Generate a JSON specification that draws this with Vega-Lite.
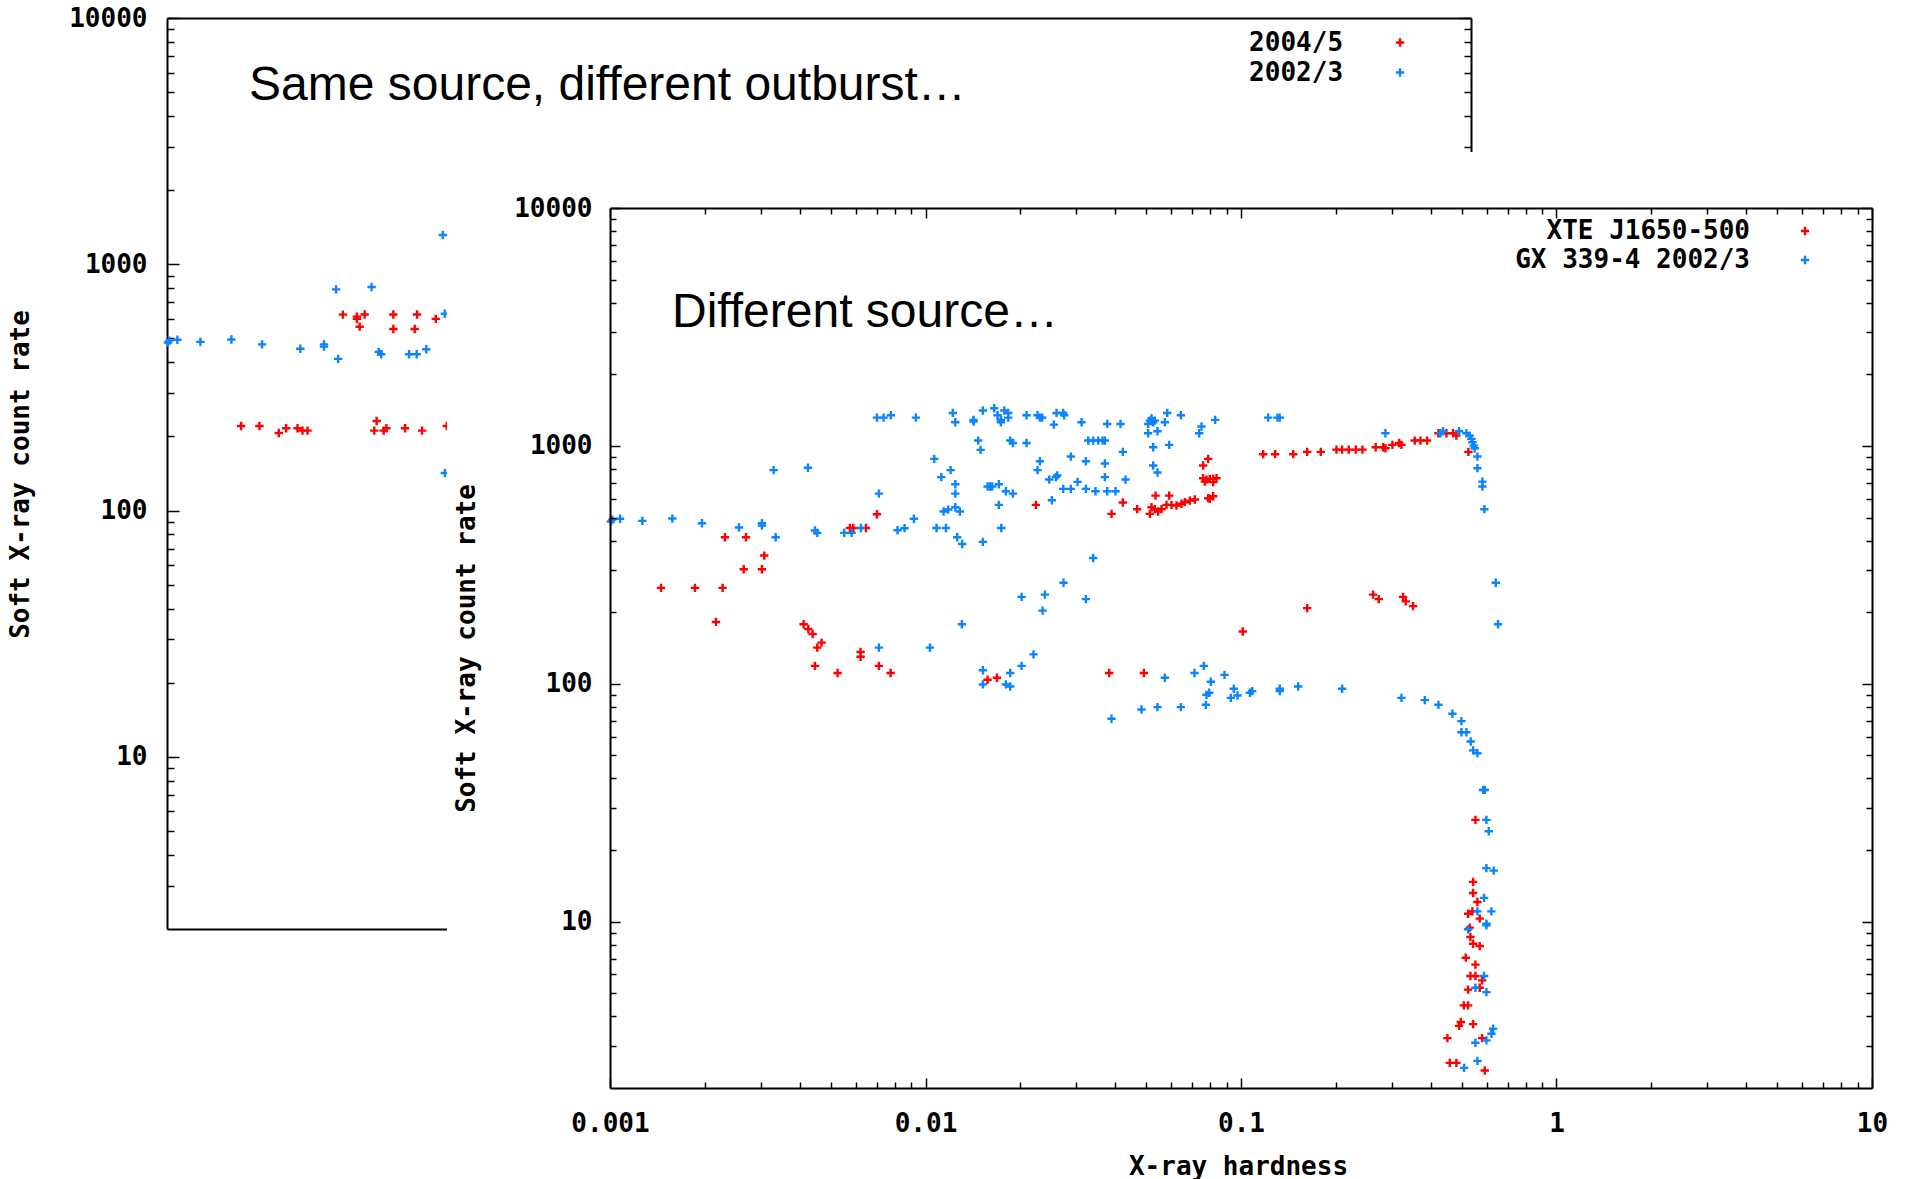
{
  "$schema": "https://vega.github.io/schema/vega-lite/v6.json",
  "width": 1905,
  "height": 1179,
  "autosize": {"type": "none"},
  "padding": 0,
  "background": "white",
  "config": {
    "view": {"stroke": null},
    "point": {"shape": "M-1,0H1M0,-1V1", "filled": false, "strokeWidth": 2.4, "size": 70, "opacity": 1},
    "axis": {"grid": false, "domainColor": "#000", "domainWidth": 2, "tickColor": "#000", "tickWidth": 1.5,
      "labelFont": "DejaVu Sans Mono", "labelFontWeight": "bold", "labelFontSize": 26, "labelColor": "#000",
      "titleFont": "DejaVu Sans Mono", "titleFontWeight": "bold", "titleFontSize": 26, "titleColor": "#000",
      "labelOverlap": false, "labelFlush": false, "labelBound": false}
  },
  "datasets": {
    "gx": [
      {"h":0.001007,"r":481},{"h":0.001017,"r":490},{"h":0.001076,"r":494},{"h":0.001266,"r":484},{"h":0.001576,"r":495},{"h":0.001957,"r":473},{"h":0.002564,"r":454},{"h":0.003031,"r":473},{"h":0.003031,"r":463},{"h":0.00335,"r":413},{"h":0.003301,"r":791},{"h":0.004241,"r":809},{"h":0.004463,"r":441},{"h":0.004539,"r":431},{"h":0.005527,"r":431},{"h":0.005832,"r":431},{"h":0.006243,"r":452},{"h":0.007118,"r":630},{"h":0.007016,"r":1315},{"h":0.007365,"r":1315},{"h":0.007769,"r":1345},{"h":0.009324,"r":1315},{"h":0.008155,"r":442},{"h":0.008584,"r":451},{"h":0.00919,"r":494},{"h":0.01066,"r":882},{"h":0.01084,"r":452},{"h":0.01161,"r":452},{"h":0.01122,"r":739},{"h":0.01201,"r":791},{"h":0.01141,"r":530},{"h":0.0118,"r":540},{"h":0.01243,"r":552},{"h":0.01285,"r":530},{"h":0.01243,"r":690},{"h":0.01243,"r":630},{"h":0.0126,"r":413},{"h":0.01307,"r":387},{"h":0.01304,"r":178},{"h":0.01221,"r":1376},{"h":0.01243,"r":1257},{"h":0.0142,"r":1286},{"h":0.0142,"r":1265},{"h":0.0152,"r":1408},{"h":0.01469,"r":1053},{"h":0.01495,"r":962},{"h":0.0152,"r":395},{"h":0.01651,"r":1440},{"h":0.01692,"r":1345},{"h":0.01734,"r":1286},{"h":0.01734,"r":1257},{"h":0.01777,"r":1408},{"h":0.01829,"r":1376},{"h":0.01829,"r":1315},{"h":0.01573,"r":675},{"h":0.016,"r":675},{"h":0.01627,"r":675},{"h":0.01708,"r":690},{"h":0.01708,"r":565},{"h":0.01738,"r":452},{"h":0.01798,"r":645},{"h":0.01892,"r":630},{"h":0.01856,"r":1053},{"h":0.01892,"r":1029},{"h":0.02091,"r":1345},{"h":0.02091,"r":1029},{"h":0.02265,"r":1345},{"h":0.02305,"r":1315},{"h":0.02344,"r":1315},{"h":0.02305,"r":862},{"h":0.02265,"r":791},{"h":0.02552,"r":1229},{"h":0.02602,"r":1376},{"h":0.02732,"r":1376},{"h":0.02751,"r":1345},{"h":0.02467,"r":722},{"h":0.0259,"r":739},{"h":0.02615,"r":751},{"h":0.02515,"r":591},{"h":0.02732,"r":660},{"h":0.02889,"r":660},{"h":0.02889,"r":902},{"h":0.03033,"r":706},{"h":0.03123,"r":1257},{"h":0.03223,"r":862},{"h":0.03223,"r":660},{"h":0.03458,"r":645},{"h":0.03279,"r":1053},{"h":0.034,"r":1053},{"h":0.03527,"r":1053},{"h":0.034,"r":338},{"h":0.02738,"r":266},{"h":0.0239,"r":237},{"h":0.0235,"r":203},{"h":0.02016,"r":232},{"h":0.03223,"r":227},{"h":0.022,"r":133},{"h":0.02016,"r":119},{"h":0.01856,"r":111},{"h":0.0152,"r":114},{"h":0.0152,"r":99.4},{"h":0.01798,"r":99.4},{"h":0.01856,"r":97.4},{"h":0.01033,"r":142},{"h":0.007118,"r":142},
      {"h":0.03766,"r":1237},{"h":0.04151,"r":1237},{"h":0.0364,"r":1053},{"h":0.03703,"r":1053},{"h":0.04222,"r":944},{"h":0.03703,"r":843},{"h":0.03703,"r":739},{"h":0.04305,"r":722},{"h":0.03766,"r":645},{"h":0.04002,"r":645},{"h":0.05079,"r":1237},{"h":0.05142,"r":1277},{"h":0.05205,"r":1307},{"h":0.05268,"r":1257},{"h":0.05333,"r":1277},{"h":0.05737,"r":1257},{"h":0.05835,"r":1376},{"h":0.06447,"r":1345},{"h":0.05079,"r":1130},{"h":0.05437,"r":1152},{"h":0.05268,"r":987},{"h":0.05921,"r":1010},{"h":0.05268,"r":827},{"h":0.05437,"r":773},{"h":0.07496,"r":1206},{"h":0.07369,"r":1130},{"h":0.08281,"r":1286},{"h":0.1219,"r":1315},{"h":0.1305,"r":1315},{"h":0.1327,"r":1315},{"h":0.2869,"r":1130},{"h":0.4286,"r":1130},{"h":0.4371,"r":1152},{"h":0.4912,"r":1152},{"h":0.5182,"r":1130},{"h":0.5309,"r":1105},{"h":0.5375,"r":1070},{"h":0.5413,"r":1036},{"h":0.5466,"r":1003},{"h":0.5506,"r":978},{"h":0.5615,"r":902},{"h":0.5615,"r":806},{"h":0.5823,"r":708},{"h":0.5823,"r":675},{"h":0.5908,"r":542},{"h":0.6419,"r":266},{"h":0.6528,"r":178},
      {"h":0.03887,"r":71.3},{"h":0.04838,"r":78},{"h":0.05437,"r":79.8},{"h":0.06447,"r":79.8},{"h":0.05737,"r":106},{"h":0.07123,"r":111},{"h":0.07625,"r":119},{"h":0.08024,"r":102},{"h":0.07774,"r":89.9},{"h":0.07926,"r":91.7},{"h":0.07738,"r":81.6},{"h":0.08865,"r":109},{"h":0.09489,"r":95.3},{"h":0.09284,"r":87.3},{"h":0.09747,"r":89.3},{"h":0.1067,"r":91.7},{"h":0.1085,"r":93.2},{"h":0.1327,"r":95.3},{"h":0.1327,"r":93.2},{"h":0.1518,"r":97.4},{"h":0.2092,"r":95.3},{"h":0.3225,"r":87.3},{"h":0.3824,"r":85.4},{"h":0.4224,"r":81.6},{"h":0.4679,"r":74.8},{"h":0.4997,"r":69.7},{"h":0.4997,"r":62.6},{"h":0.5182,"r":62.6},
      {"h":0.5348,"r":57.2},{"h":0.544,"r":52.5},{"h":0.5615,"r":51.1},{"h":0.5851,"r":35.8},{"h":0.5923,"r":35.8},{"h":0.5996,"r":26.8},{"h":0.6099,"r":24},{"h":0.5996,"r":16.8},{"h":0.6325,"r":16.4},{"h":0.5894,"r":12.6},{"h":0.5615,"r":11.05},{"h":0.6218,"r":11.05},{"h":0.5996,"r":9.81},{"h":0.5996,"r":9.65},{"h":0.5245,"r":9.29},{"h":0.5894,"r":5.91},{"h":0.5533,"r":5.28},{"h":0.5996,"r":5.06},{"h":0.6295,"r":3.55},{"h":0.6218,"r":3.38},{"h":0.5996,"r":3.17},{"h":0.5533,"r":3.1},{"h":0.5615,"r":2.6},{"h":0.5094,"r":2.43}
    ],
    "xte": [
      {"h":0.002314,"r":413},{"h":0.002698,"r":413},{"h":0.003083,"r":346},{"h":0.002653,"r":303},{"h":0.003031,"r":303},{"h":0.001451,"r":253},{"h":0.001859,"r":253},{"h":0.002275,"r":253},{"h":0.002167,"r":182},{"h":0.004109,"r":178},{"h":0.004252,"r":170},{"h":0.004388,"r":162},{"h":0.004685,"r":149},{"h":0.004539,"r":142},{"h":0.004463,"r":119},{"h":0.005265,"r":111},{"h":0.006227,"r":136},{"h":0.006227,"r":130},{"h":0.007118,"r":119},{"h":0.007751,"r":111},{"h":0.005761,"r":452},{"h":0.005903,"r":452},{"h":0.006474,"r":452},{"h":0.007016,"r":516},{"h":0.02238,"r":565},{"h":0.01573,"r":104},{"h":0.01684,"r":106},
      {"h":0.03887,"r":518},{"h":0.04222,"r":578},{"h":0.04688,"r":542},{"h":0.05142,"r":518},{"h":0.05205,"r":552},{"h":0.05333,"r":542},{"h":0.05464,"r":530},{"h":0.05598,"r":542},{"h":0.05359,"r":618},{"h":0.05921,"r":618},{"h":0.05806,"r":565},{"h":0.06023,"r":565},{"h":0.06245,"r":562},{"h":0.06478,"r":571},{"h":0.06637,"r":580},{"h":0.06884,"r":589},{"h":0.0714,"r":595},{"h":0.07588,"r":827},{"h":0.0787,"r":882},{"h":0.07588,"r":731},{"h":0.07774,"r":722},{"h":0.07965,"r":727},{"h":0.08162,"r":727},{"h":0.08363,"r":731},{"h":0.07681,"r":708},{"h":0.08162,"r":704},{"h":0.0787,"r":603},{"h":0.08162,"r":614},{"h":0.07965,"r":599},{"h":0.1176,"r":923},{"h":0.1283,"r":923},{"h":0.1464,"r":923},{"h":0.1621,"r":944},{"h":0.179,"r":944},{"h":0.2007,"r":965},{"h":0.2092,"r":965},{"h":0.2196,"r":965},{"h":0.2311,"r":965},{"h":0.2426,"r":965},{"h":0.2673,"r":987},{"h":0.2821,"r":987},{"h":0.2869,"r":978},{"h":0.3019,"r":1010},{"h":0.317,"r":1029},{"h":0.3225,"r":1010},{"h":0.3554,"r":1053},{"h":0.3704,"r":1053},{"h":0.3889,"r":1053},{"h":0.4224,"r":1130},{"h":0.4478,"r":1130},{"h":0.4702,"r":1130},{"h":0.4817,"r":1105},{"h":0.5258,"r":944},{"h":0.2622,"r":237},{"h":0.2733,"r":227},{"h":0.3264,"r":232},{"h":0.3328,"r":222},{"h":0.3511,"r":212},{"h":0.1621,"r":208},{"h":0.1013,"r":166},{"h":0.03822,"r":111},{"h":0.04922,"r":111},
      {"h":0.5533,"r":26.8},{"h":0.544,"r":14.7},{"h":0.544,"r":13.2},{"h":0.5615,"r":12.1},{"h":0.5245,"r":10.8},{"h":0.5413,"r":11.05},{"h":0.5711,"r":10.3},{"h":0.5309,"r":9.44},{"h":0.5335,"r":8.62},{"h":0.544,"r":8.08},{"h":0.5711,"r":7.9},{"h":0.5157,"r":7.06},{"h":0.5533,"r":6.6},{"h":0.5335,"r":5.91},{"h":0.5533,"r":5.91},{"h":0.581,"r":5.67},{"h":0.5711,"r":5.28},{"h":0.5245,"r":5.18},{"h":0.5083,"r":4.45},{"h":0.5245,"r":4.45},{"h":0.4973,"r":3.79},{"h":0.4912,"r":3.65},{"h":0.544,"r":3.71},{"h":0.4511,"r":3.24},{"h":0.581,"r":3.24},{"h":0.4589,"r":2.55},{"h":0.4817,"r":2.55},{"h":0.5923,"r":2.37}
    ],
    "o0405": [
      {"h":0.003464,"r":624.6},{"h":0.003825,"r":613},{"h":0.003825,"r":600},{"h":0.0039,"r":558},{"h":0.004039,"r":625},{"h":0.004946,"r":625},{"h":0.004946,"r":546},{"h":0.005753,"r":546},{"h":0.005848,"r":625},{"h":0.006675,"r":600},{"h":0.007213,"r":220.6},{"h":0.001688,"r":220.6},{"h":0.001921,"r":220.6},{"h":0.002203,"r":206.6},{"h":0.00232,"r":215.8},{"h":0.002514,"r":215.8},{"h":0.002604,"r":211.2},{"h":0.002698,"r":211.2},{"h":0.004396,"r":231.1},{"h":0.004324,"r":211.2},{"h":0.00462,"r":211.2},{"h":0.00471,"r":215.8},{"h":0.005373,"r":215.8},{"h":0.006059,"r":211.2}
    ]
  },
  "resolve": {"scale": {"x": "independent", "y": "independent"}, "axis": {"x": "independent", "y": "independent"}},
  "layer": [
    {
      "data": {"name": "o0405"},
      "mark": {"type": "point", "color": "#ff0000"},
      "encoding": {
        "x": {"field": "h", "type": "quantitative", "scale": {"type": "log", "domain": [0.001, 10], "range": [167, 1471], "nice": false},
          "axis": {"orient": "top", "offset": -18, "ticks": false, "labels": false, "title": null, "zindex": 0}},
        "y": {"field": "r", "type": "quantitative", "scale": {"type": "log", "domain": [2, 10000], "range": [929, 18], "nice": false},
          "axis": {"orient": "left", "offset": -167, "zindex": 0,
            "values": [3,4,5,6,7,8,9,10,20,30,40,50,60,70,80,90,100,200,300,400,500,600,700,800,900,1000,2000,3000,4000,5000,6000,7000,8000,9000,10000],
            "format": "~g",
            "labelExpr": "abs(log(datum.value)/LN10 - round(log(datum.value)/LN10)) < 1e-6 ? datum.label : ''",
            "tickSize": {"condition": {"test": "abs(log(datum.value)/LN10 - round(log(datum.value)/LN10)) < 1e-6", "value": -12}, "value": -7},
            "labelPadding": 32, "labelAlign": "right", "labelBaseline": "middle",
            "title": "Soft X-ray count rate", "titleX": -147, "titleY": 474, "titleAngle": 270, "titleAlign": "center", "titleBaseline": "middle"}}
      }
    },
    {
      "data": {"name": "gx"},
      "transform": [{"filter": "datum.h < 0.00724"}],
      "mark": {"type": "point", "color": "#0b85ff"},
      "encoding": {
        "x": {"field": "h", "type": "quantitative", "scale": {"type": "log", "domain": [0.001, 10], "range": [167, 1471], "nice": false},
          "axis": {"orient": "bottom", "offset": -250, "ticks": false, "labels": false, "title": null, "zindex": 0}},
        "y": {"field": "r", "type": "quantitative", "scale": {"type": "log", "domain": [2, 10000], "range": [929, 18], "nice": false},
          "axis": {"orient": "right", "offset": -434, "zindex": 0, "labels": false, "title": null,
            "values": [3,4,5,6,7,8,9,10,20,30,40,50,60,70,80,90,100,200,300,400,500,600,700,800,900,1000,2000,3000,4000,5000,6000,7000,8000,9000,10000],
            "tickSize": {"condition": {"test": "abs(log(datum.value)/LN10 - round(log(datum.value)/LN10)) < 1e-6", "value": -12}, "value": -7}}}
      }
    },
    {
      "data": {"values": [{"t": "Same source, different outburst…"}]},
      "mark": {"type": "text", "font": "Liberation Sans", "fontSize": 48, "align": "left", "baseline": "alphabetic", "color": "#000"},
      "encoding": {
        "text": {"field": "t"},
        "x": {"datum": 0.001785, "type": "quantitative", "scale": {"type": "log", "domain": [0.001, 10], "range": [167, 1471], "nice": false}, "axis": null},
        "y": {"datum": 4647, "type": "quantitative", "scale": {"type": "log", "domain": [2, 10000], "range": [929, 18], "nice": false}, "axis": null}
      }
    },
    {
      "data": {"values": [{"s": "2004/5"}, {"s": "2002/3"}]},
      "mark": {"type": "text", "font": "DejaVu Sans Mono", "fontWeight": "bold", "fontSize": 26, "align": "right", "baseline": "middle", "color": "#000"},
      "encoding": {
        "text": {"field": "s"},
        "x": {"datum": 4.05, "type": "quantitative", "scale": {"type": "log", "domain": [0.001, 10], "range": [167, 1471], "nice": false}, "axis": null},
        "y": {"field": "s", "type": "nominal", "scale": {"type": "point", "domain": ["2004/5", "2002/3"], "range": [42.5, 72.5], "padding": 0}, "axis": null}
      }
    },
    {
      "data": {"values": [{"s": "2004/5"}, {"s": "2002/3"}]},
      "mark": {"type": "point"},
      "encoding": {
        "x": {"datum": 6.057, "type": "quantitative", "scale": {"type": "log", "domain": [0.001, 10], "range": [167, 1471], "nice": false}, "axis": null},
        "y": {"field": "s", "type": "nominal", "scale": {"type": "point", "domain": ["2004/5", "2002/3"], "range": [42.5, 72.5], "padding": 0}, "axis": null},
        "color": {"field": "s", "type": "nominal", "scale": {"domain": ["2004/5", "2002/3"], "range": ["#ff0000", "#0b85ff"]}, "legend": null}
      }
    },
    {
      "data": {"values": [{"region": "front panel"}]},
      "mark": {"type": "rect", "fill": "white", "stroke": null},
      "encoding": {
        "x": {"datum": 0.0003043, "type": "quantitative", "scale": {"type": "log", "domain": [0.001, 10], "range": [610, 1872], "nice": false}, "axis": null},
        "x2": {"datum": 13},
        "y": {"datum": 17195, "type": "quantitative", "scale": {"type": "log", "domain": [2, 10000], "range": [1088, 208], "nice": false}, "axis": null},
        "y2": {"datum": 0.8}
      }
    },
    {
      "data": {"name": "xte"},
      "mark": {"type": "point", "color": "#ff0000"},
      "encoding": {
        "x": {"field": "h", "type": "quantitative", "scale": {"type": "log", "domain": [0.001, 10], "range": [610, 1872], "nice": false},
          "axis": {"orient": "top", "offset": -208, "zindex": 1, "labels": false, "title": null,
            "values": [0.001,0.002,0.003,0.004,0.005,0.006,0.007,0.008,0.009,0.01,0.02,0.03,0.04,0.05,0.06,0.07,0.08,0.09,0.1,0.2,0.3,0.4,0.5,0.6,0.7,0.8,0.9,1,2,3,4,5,6,7,8,9,10],
            "tickSize": {"condition": {"test": "abs(log(datum.value)/LN10 - round(log(datum.value)/LN10)) < 1e-6", "value": -10}, "value": -6}}},
        "y": {"field": "r", "type": "quantitative", "scale": {"type": "log", "domain": [2, 10000], "range": [1088, 208], "nice": false},
          "axis": {"orient": "right", "offset": -33, "zindex": 1, "labels": false, "title": null,
            "values": [3,4,5,6,7,8,9,10,20,30,40,50,60,70,80,90,100,200,300,400,500,600,700,800,900,1000,2000,3000,4000,5000,6000,7000,8000,9000,10000],
            "tickSize": {"condition": {"test": "abs(log(datum.value)/LN10 - round(log(datum.value)/LN10)) < 1e-6", "value": -10}, "value": -6}}}
      }
    },
    {
      "data": {"name": "gx"},
      "mark": {"type": "point", "color": "#0b85ff"},
      "encoding": {
        "x": {"field": "h", "type": "quantitative", "scale": {"type": "log", "domain": [0.001, 10], "range": [610, 1872], "nice": false},
          "axis": {"orient": "bottom", "offset": -91, "zindex": 1,
            "values": [0.001,0.002,0.003,0.004,0.005,0.006,0.007,0.008,0.009,0.01,0.02,0.03,0.04,0.05,0.06,0.07,0.08,0.09,0.1,0.2,0.3,0.4,0.5,0.6,0.7,0.8,0.9,1,2,3,4,5,6,7,8,9,10],
            "format": "~g",
            "labelExpr": "abs(log(datum.value)/LN10 - round(log(datum.value)/LN10)) < 1e-6 ? datum.label : ''",
            "tickSize": {"condition": {"test": "abs(log(datum.value)/LN10 - round(log(datum.value)/LN10)) < 1e-6", "value": -10}, "value": -6},
            "labelPadding": 32, "labelBaseline": "top", "labelAlign": "center",
            "title": "X-ray hardness", "titleX": 1238, "titleY": 86, "titleAlign": "center", "titleBaseline": "alphabetic"}},
        "y": {"field": "r", "type": "quantitative", "scale": {"type": "log", "domain": [2, 10000], "range": [1088, 208], "nice": false},
          "axis": {"orient": "left", "offset": -610, "zindex": 1,
            "values": [3,4,5,6,7,8,9,10,20,30,40,50,60,70,80,90,100,200,300,400,500,600,700,800,900,1000,2000,3000,4000,5000,6000,7000,8000,9000,10000],
            "format": "~g",
            "labelExpr": "abs(log(datum.value)/LN10 - round(log(datum.value)/LN10)) < 1e-6 ? datum.label : ''",
            "tickSize": {"condition": {"test": "abs(log(datum.value)/LN10 - round(log(datum.value)/LN10)) < 1e-6", "value": -10}, "value": -6},
            "labelPadding": 28, "labelAlign": "right", "labelBaseline": "middle",
            "title": "Soft X-ray count rate", "titleX": -144, "titleY": 648, "titleAngle": 270, "titleAlign": "center", "titleBaseline": "middle"}}
      }
    },
    {
      "data": {"values": [{"t": "Different source…"}]},
      "mark": {"type": "text", "font": "Liberation Sans", "fontSize": 48, "align": "left", "baseline": "alphabetic", "color": "#000"},
      "encoding": {
        "text": {"field": "t"},
        "x": {"datum": 0.001572, "type": "quantitative", "scale": {"type": "log", "domain": [0.001, 10], "range": [610, 1872], "nice": false}, "axis": null},
        "y": {"datum": 3161, "type": "quantitative", "scale": {"type": "log", "domain": [2, 10000], "range": [1088, 208], "nice": false}, "axis": null}
      }
    },
    {
      "data": {"values": [{"s": "XTE J1650-500"}, {"s": "GX 339-4 2002/3"}]},
      "mark": {"type": "text", "font": "DejaVu Sans Mono", "fontWeight": "bold", "fontSize": 26, "align": "right", "baseline": "middle", "color": "#000"},
      "encoding": {
        "text": {"field": "s"},
        "x": {"datum": 4.106, "type": "quantitative", "scale": {"type": "log", "domain": [0.001, 10], "range": [610, 1872], "nice": false}, "axis": null},
        "y": {"field": "s", "type": "nominal", "scale": {"type": "point", "domain": ["XTE J1650-500", "GX 339-4 2002/3"], "range": [231, 260], "padding": 0}, "axis": null}
      }
    },
    {
      "data": {"values": [{"s": "XTE J1650-500"}, {"s": "GX 339-4 2002/3"}]},
      "mark": {"type": "point"},
      "encoding": {
        "x": {"datum": 6.133, "type": "quantitative", "scale": {"type": "log", "domain": [0.001, 10], "range": [610, 1872], "nice": false}, "axis": null},
        "y": {"field": "s", "type": "nominal", "scale": {"type": "point", "domain": ["XTE J1650-500", "GX 339-4 2002/3"], "range": [231, 260], "padding": 0}, "axis": null},
        "color": {"field": "s", "type": "nominal", "scale": {"domain": ["XTE J1650-500", "GX 339-4 2002/3"], "range": ["#ff0000", "#0b85ff"]}, "legend": null}
      }
    }
  ]
}
